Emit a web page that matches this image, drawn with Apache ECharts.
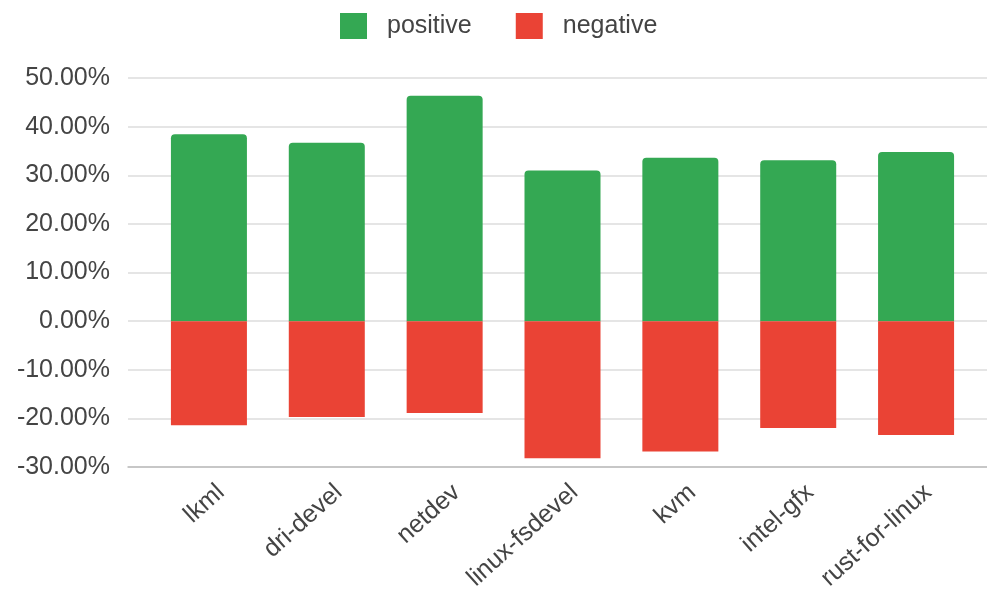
<!DOCTYPE html>
<html>
<head>
<meta charset="utf-8">
<script src="https://cdn.jsdelivr.net/npm/echarts@6/dist/echarts.min.js"></script>
<style>html,body{margin:0;padding:0;background:#fff}#c{width:987px;height:598px}</style>
</head>
<body>
<div id="c"></div>
<script>
const categories = ['lkml', 'dri-devel', 'netdev', 'linux-fsdevel', 'kvm', 'intel-gfx', 'rust-for-linux'];
const positiveValues = [38.45, 36.7, 46.35, 31.0, 33.6, 33.1, 34.8];
const negativeValues = [-21.4, -19.7, -18.9, -28.2, -26.8, -22.0, -23.4];
const seriesNames = ['positive', 'negative'];
const yMin = -30, yMax = 50, yStep = 10;

const font = 'Liberation Sans, Arial, sans-serif';
const txt = '#444444';
const chart = echarts.init(document.getElementById('c'));
chart.setOption({
  animation: false,
  backgroundColor: '#ffffff',
  textStyle: { fontFamily: font },
  legend: {
    data: seriesNames,
    left: 335, top: 8,
    itemWidth: 27, itemHeight: 26, itemGap: 44,
    icon: 'rect',
    textStyle: { fontSize: 25, color: txt, fontFamily: font, padding: [0, 0, 0, 15] }
  },
  grid: [
    { left: 128, right: 0, top: 78, bottom: 131 },
    { left: 150, right: 12, top: 78, bottom: 131 },
    { left: 162, right: 0, top: 78, bottom: 131 }
  ],
  xAxis: [
    { type: 'category', gridIndex: 0, data: categories,
      axisLine: { show: true, onZero: false, lineStyle: { color: '#bdbdbd', width: 1.5 } },
      axisTick: { show: false }, axisLabel: { show: false } },
    { type: 'category', gridIndex: 1, data: categories,
      axisLine: { show: false }, axisTick: { show: false }, axisLabel: { show: false } },
    { type: 'category', gridIndex: 2, data: categories,
      axisLine: { show: false }, axisTick: { show: false },
      axisLabel: { rotate: 42, margin: 22, fontSize: 25, color: txt, fontFamily: font, interval: 0 } }
  ],
  yAxis: [
    { type: 'value', gridIndex: 0, min: yMin, max: yMax, interval: yStep,
      axisLine: { show: false }, axisTick: { show: false },
      splitLine: { lineStyle: { color: '#dcdcdc', width: 1.5 } },
      axisLabel: { margin: 18, fontSize: 25, color: txt, fontFamily: font,
        formatter: v => v.toFixed(2) + '%' } },
    { type: 'value', gridIndex: 1, min: yMin, max: yMax, interval: yStep,
      show: false, splitLine: { show: false } },
    { type: 'value', gridIndex: 2, min: yMin, max: yMax, interval: yStep,
      show: false, splitLine: { show: false } }
  ],
  series: [
    { name: seriesNames[0], type: 'bar', xAxisIndex: 1, yAxisIndex: 1, stack: 's',
      data: positiveValues, barWidth: 76,
      itemStyle: { color: '#34a853', borderRadius: [4, 4, 0, 0] } },
    { name: seriesNames[1], type: 'bar', xAxisIndex: 1, yAxisIndex: 1, stack: 's',
      data: negativeValues, barWidth: 76,
      itemStyle: { color: '#ea4335' } }
  ]
});
</script>
</body>
</html>
